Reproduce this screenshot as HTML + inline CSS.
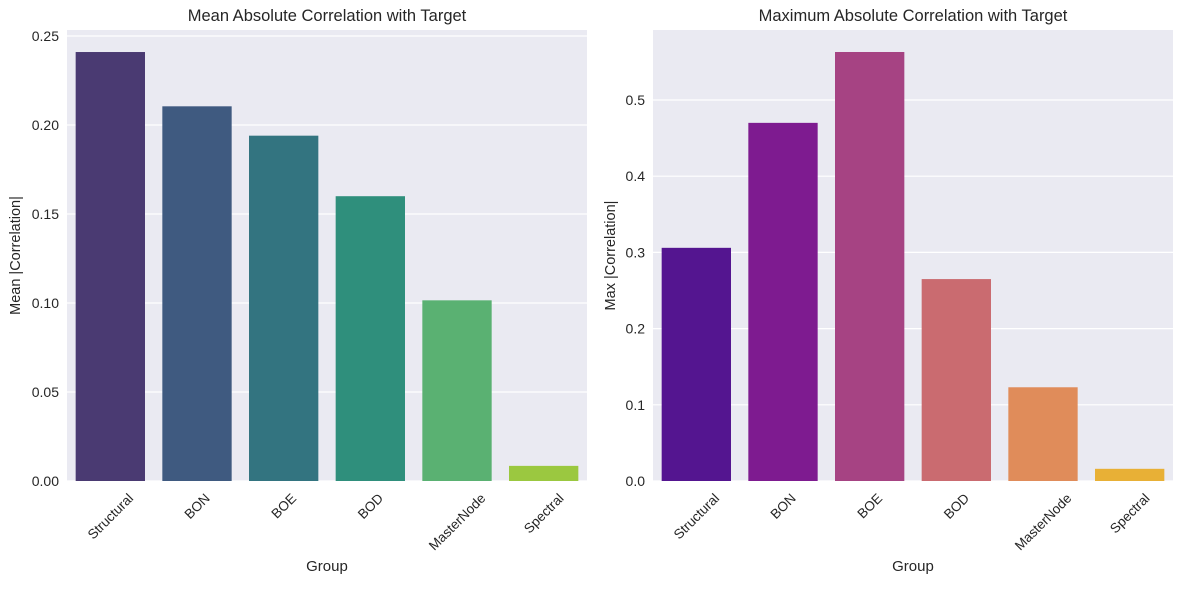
<!DOCTYPE html>
<html><head><meta charset="utf-8"><style>
body{margin:0;background:#fff;font-family:"Liberation Sans",Arial,sans-serif}
svg text{font-family:"Liberation Sans",Arial,sans-serif;fill:#262626}
</style></head><body>
<svg id="chart" width="1183" height="584" xmlns="http://www.w3.org/2000/svg"></svg>
<script>
const categories = ["Structural","BON","BOE","BOD","MasterNode","Spectral"];
const meanValues = [0.241,0.2105,0.194,0.160,0.1015,0.0085];
const maxValues = [0.306,0.470,0.563,0.265,0.123,0.016];
const meanTicks = [0,0.05,0.10,0.15,0.20,0.25];
const meanTickLabels = ["0.00","0.05","0.10","0.15","0.20","0.25"];
const maxTicks = [0,0.1,0.2,0.3,0.4,0.5];
const maxTickLabels = ["0.0","0.1","0.2","0.3","0.4","0.5"];
const meanColors = ["#4a3a72","#3f5a80","#337480","#2f8f7c","#5ab172","#9bc840"];
const maxColors = ["#541590","#7e1b90","#a64383","#ca6b70","#e08c5a","#e8b036"];

const NS="http://www.w3.org/2000/svg";
const svg=document.getElementById('chart');
function mk(tag,attrs,parent){const e=document.createElementNS(NS,tag);for(const k in attrs)e.setAttribute(k,attrs[k]);(parent||svg).appendChild(e);return e;}

function panel(cfg){
  const g=mk('g',{});
  
  
  const L=cfg.left,T=30,W=520,B=481;
  const y=v=>B-v*cfg.scale;
  const band=W/categories.length;
  const x=i=>L+band*i+band*0.1;
  const bg=mk('rect',{x:L,y:T,width:W,height:B-T,fill:'#eaeaf2'},g);
  
  
  cfg.ticks.forEach((t,i)=>{
    const gl=mk('line',{x1:L,x2:L+W,y1:y(t),y2:y(t),stroke:'#fff','stroke-width':1.2},g);
    
    
    const tl=mk('text',{x:L-8,y:y(t)+5,'text-anchor':'end','font-size':14},g);
    tl.textContent=cfg.tickLabels[i];
    
    
  });
  cfg.values.forEach((v,i)=>{
    const r=mk('rect',{x:x(i),y:y(v),width:band*0.8,height:B-y(v),fill:cfg.colors[i]},g);
    
    
    const fs=13.5;
    const tl=mk('text',{x:0,y:0,'text-anchor':'middle','font-size':fs},g);
    tl.textContent=categories[i];
    
    
    const tw=tl.getComputedTextLength();
    const half=(tw+fs)*0.7071/2;
    const cx=L+band*i+band/2, cy=B+10+half;
    tl.setAttribute('transform',`translate(${cx} ${cy}) rotate(-45) translate(0 ${fs*0.35})`);
  });
  const tt=mk('text',{x:L+W/2,y:21,'text-anchor':'middle','font-size':16.5},g);
  tt.textContent=cfg.title;
  
  
  const xt=mk('text',{x:L+W/2,y:571,'text-anchor':'middle','font-size':15},g);
  xt.textContent='Group';
  
  
  const yx=cfg.yTitleX;
  const yt=mk('text',{x:yx,y:(T+B)/2,'text-anchor':'middle','font-size':14.5,transform:`rotate(-90 ${yx} ${(T+B)/2})`},g);
  yt.textContent=cfg.ylabel;
  
  
}
panel({name:'mean-correlation-panel',left:67,yTitleX:20,scale:1780,values:meanValues,colors:meanColors,ticks:meanTicks,tickLabels:meanTickLabels,title:'Mean Absolute Correlation with Target',ylabel:'Mean |Correlation|'});
panel({name:'max-correlation-panel',left:653,yTitleX:615,scale:762,values:maxValues,colors:maxColors,ticks:maxTicks,tickLabels:maxTickLabels,title:'Maximum Absolute Correlation with Target',ylabel:'Max |Correlation|'});
</script>
</body></html>
